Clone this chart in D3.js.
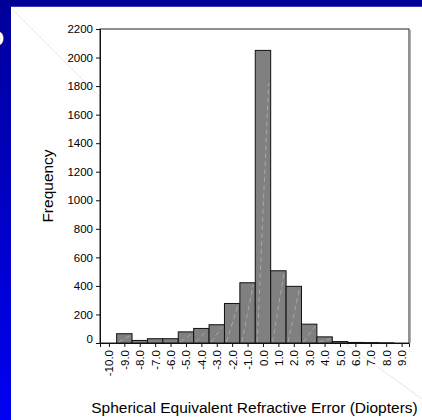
<!DOCTYPE html>
<html>
<head>
<meta charset="utf-8">
<script src="https://cdn.jsdelivr.net/npm/d3@7"></script>
<style>
  html, body { margin: 0; padding: 0; background: #fff; }
  svg { display: block; }
</style>
</head>
<body>
<svg id="chart" width="422" height="420"></svg>
<script>
// Data
const binCenters = [-10, -9, -8, -7, -6, -5, -4, -3, -2, -1, 0, 1, 2, 3, 4, 5, 6, 7, 8, 9];
const frequencies = [0, 65, 18, 30, 30, 78, 102, 128, 277, 422, 2050, 506, 397, 132, 43, 10, 4, 3, 1, 0];
const yTicks = [0, 200, 400, 600, 800, 1000, 1200, 1400, 1600, 1800, 2000, 2200];
const xTickLabels = ["-10.0","-9.0","-8.0","-7.0","-6.0","-5.0","-4.0","-3.0","-2.0","-1.0","0.0","1.0","2.0","3.0","4.0","5.0","6.0","7.0","8.0","9.0"];
const xTitle = "Spherical Equivalent Refractive Error (Diopters)";
const yTitle = "Frequency";
const slideTitleFragment = "O";

(function () {
const svg = d3.select("#chart");
const W = 422, H = 420;
const pLeft = 100, pRight = 409, pTop = 29, pBottom = 343;

// Slide background decorations
const defs = svg.append("defs");
const grad = defs.append("linearGradient").attr("id", "blueStrip")
  .attr("x1", 0).attr("y1", 0).attr("x2", 0).attr("y2", 1);
grad.append("stop").attr("offset", "0%").attr("stop-color", "#00009a");
grad.append("stop").attr("offset", "100%").attr("stop-color", "#0000f2");

svg.append("rect").attr("x", 0).attr("y", 0).attr("width", 11).attr("height", H).attr("fill", "url(#blueStrip)");
svg.append("rect").attr("x", 0).attr("y", 0).attr("width", W).attr("height", 7).attr("fill", "#000099");
svg.append("rect").attr("x", 11).attr("y", 6).attr("width", W - 11).attr("height", 1).attr("fill", "#3a3ab0");
svg.append("text").attr("x", 4).attr("y", 46).attr("text-anchor", "end")
  .attr("font-family", "Liberation Sans, Arial, sans-serif").attr("font-weight", "bold")
  .attr("font-size", 22).attr("fill", "#fff").text(slideTitleFragment);

// faint slide diagonal
svg.append("line").attr("x1", 13).attr("y1", 10).attr("x2", 100).attr("y2", 97)
  .attr("stroke", "#e6e6e6").attr("stroke-width", 1);
svg.append("line").attr("x1", 346).attr("y1", 344).attr("x2", 422).attr("y2", 399)
  .attr("stroke", "#e6e6e6").attr("stroke-width", 1);

const x = d3.scaleLinear().domain([-10.58, 9.48]).range([pLeft, pRight]);
const y = d3.scaleLinear().domain([0, 2200]).range([pBottom, pTop]);

const font = "Liberation Sans, Arial, sans-serif";

// plot frame shadow and frame
svg.append("line").attr("x1", pRight + 1.5).attr("y1", pTop + 1).attr("x2", pRight + 1.5).attr("y2", pBottom)
  .attr("stroke", "#b0b0b0").attr("stroke-width", 1);
svg.append("rect").attr("x", pLeft).attr("y", pTop).attr("width", pRight - pLeft).attr("height", pBottom - pTop)
  .attr("fill", "#fff").attr("stroke", "#222").attr("stroke-width", 1);

// Bars
const bars = svg.append("g");
binCenters.forEach((c, i) => {
  const v = frequencies[i];
  if (v <= 0) return;
  const x0 = x(c - 0.5), x1 = x(c + 0.5);
  bars.append("rect")
    .attr("x", x0).attr("y", y(v))
    .attr("width", x1 - x0).attr("height", y(0) - y(v))
    .attr("fill", "#808080").attr("stroke", "#111").attr("stroke-width", 1);
  if (y(0) - y(v) > 6) {
    bars.append("line")
      .attr("x1", x0 + 2).attr("y1", y(0) - 1)
      .attr("x2", x1 - 2).attr("y2", Math.max(y(v) + 2, y(0) - 260))
      .attr("stroke", "#d8d8d8").attr("stroke-opacity", 0.55)
      .attr("stroke-width", 0.8).attr("stroke-dasharray", "5,3");
  }
});

// Y axis
const yAxis = d3.axisLeft(y).tickValues(yTicks).tickSize(4).tickPadding(3).tickFormat(d3.format("d"));
const gy = svg.append("g").attr("transform", `translate(${pLeft},0)`).call(yAxis);
gy.select(".domain").attr("stroke", "#111");
gy.selectAll(".tick line").attr("stroke", "#111");
gy.selectAll(".tick text").attr("font-family", font).attr("font-size", 11.5).attr("fill", "#000")
  .attr("dy", d => d === 0 ? "-0.05em" : "0.32em");

// X axis
const xAxis = d3.axisBottom(x).tickValues(binCenters).tickSize(4).tickPadding(3)
  .tickFormat((d, i) => xTickLabels[i]);
const gx = svg.append("g").attr("transform", `translate(0,${pBottom})`).call(xAxis);
gx.select(".domain").attr("stroke", "#111");
gx.selectAll(".tick line").attr("stroke", "#111");
gx.selectAll(".tick text")
  .attr("font-family", font).attr("font-size", 11.5).attr("fill", "#000")
  .attr("text-anchor", "end")
  .attr("transform", "rotate(-90)")
  .attr("x", -7).attr("y", 0).attr("dy", "0.35em");

// Titles
svg.append("text").attr("x", (pLeft + pRight) / 2).attr("y", 413)
  .attr("text-anchor", "middle").attr("font-family", font).attr("font-size", 15.5).attr("fill", "#000")
  .text(xTitle);
svg.append("text").attr("transform", `translate(53,${(pTop + pBottom) / 2}) rotate(-90)`)
  .attr("text-anchor", "middle").attr("font-family", font).attr("font-size", 15.5).attr("fill", "#000")
  .text(yTitle);
})();
</script>
</body>
</html>
